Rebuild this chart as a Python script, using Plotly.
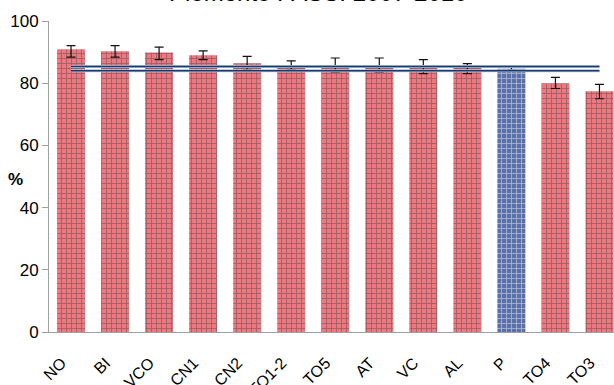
import plotly.graph_objects as go

categories = ["NO", "BI", "VCO", "CN1", "CN2", "TO1-2", "TO5", "AT", "VC", "AL", "P", "TO4", "TO3"]
values = [90.9, 90.3, 89.9, 89.0, 86.4, 85.8, 85.8, 85.8, 85.8, 85.2, 84.7, 80.0, 77.4]
err_plus = [1.2, 1.8, 1.7, 1.4, 2.2, 1.4, 2.3, 2.3, 1.8, 1.1, 0.4, 1.9, 2.2]
err_minus = [2.5, 1.9, 2.3, 1.4, 2.0, 1.4, 2.2, 2.2, 2.7, 2.1, 0.4, 1.7, 2.4]
piemonte_ci_low = 84.0
piemonte_ci_high = 85.4
y_ticks = [0, 20, 40, 60, 80, 100]
title_text = "Piemonte PASSI 2007-2010"

red_bg, red_fg = "#EE7880", "#E0202F"
blue_bg, blue_fg = "#5A70A8", "#1C3878"
bg = [blue_bg if c == "P" else red_bg for c in categories]
fg = [blue_fg if c == "P" else red_fg for c in categories]
tick_text = [c + "\u00a0" * 3 for c in categories]

fig = go.Figure()
fig.add_trace(go.Bar(
    x=categories, y=values,
    marker=dict(color=bg, line=dict(width=0),
                pattern=dict(shape="+", size=5, solidity=0.3, fgcolor=fg, fillmode="overlay")),
    error_y=dict(type="data", symmetric=False, array=err_plus, arrayminus=err_minus,
                 color="#111111", thickness=1.2, width=4.5),
    showlegend=False,
))
for yv in (piemonte_ci_high, piemonte_ci_low):
    fig.add_trace(go.Scatter(x=categories, y=[yv] * len(categories), mode="lines",
                             line=dict(color="#B4C6DE", width=3), showlegend=False, hoverinfo="skip"))
    fig.add_trace(go.Scatter(x=categories, y=[yv] * len(categories), mode="lines",
                             line=dict(color="#1B3A6B", width=1.5), showlegend=False, hoverinfo="skip"))

fig.update_layout(
    width=614, height=385,
    margin=dict(l=49, r=0, t=21, b=53),
    paper_bgcolor="white", plot_bgcolor="white",
    bargap=0.365,
    font=dict(family="Arial, Liberation Sans, sans-serif", color="#000000"),
    xaxis=dict(range=[-0.5, 12.33], showline=True, linecolor="#A0A0A0", linewidth=1,
               tickmode="array", tickvals=categories, ticktext=tick_text,
               ticks="", tickangle=-45, tickfont=dict(size=16), showgrid=False, zeroline=False,
               automargin=False, ticklabelstandoff=5),
    yaxis=dict(range=[0, 100], tickvals=y_ticks, showline=True, linecolor="#A0A0A0", linewidth=1,
               ticks="outside", ticklen=6, tickcolor="#A0A0A0", tickfont=dict(size=17),
               showgrid=False, zeroline=False, automargin=False),
    annotations=[
        dict(text=title_text, xref="paper", yref="paper", x=0.4755, y=1.042,
             xanchor="center", yanchor="bottom", showarrow=False, font=dict(size=24)),
        dict(text="<b>%</b>", xref="paper", yref="paper", x=-0.0586, y=0.491,
             xanchor="center", yanchor="middle", showarrow=False, font=dict(size=17)),
    ],
)
fig.write_html("out.html", config={"displayModeBar": False},
               post_script="document.body.style.margin='0';document.body.style.padding='0';")
